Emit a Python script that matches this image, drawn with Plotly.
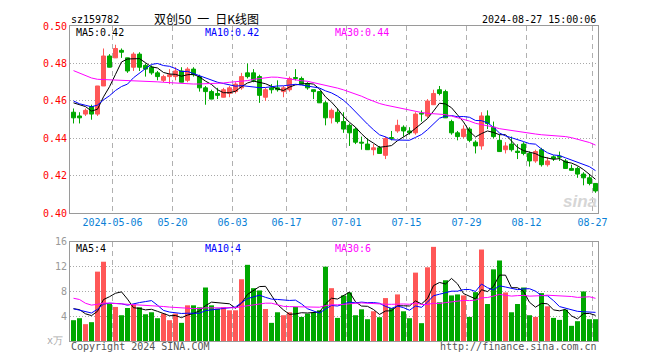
import numpy as np
import plotly.graph_objects as go

# ---------------- data ----------------
days = {4: [22, 23, 24, 25, 26, 29, 30],
        5: [6, 7, 8, 9, 10, 13, 14, 15, 16, 17, 20, 21, 22, 23, 24, 27, 28, 29, 30, 31],
        6: [3, 4, 5, 6, 7, 11, 12, 13, 14, 17, 18, 19, 20, 21, 24, 25, 26, 27, 28],
        7: [1, 2, 3, 4, 5, 8, 9, 10, 11, 12, 15, 16, 17, 18, 19, 22, 23, 24, 25, 26, 29, 30, 31],
        8: [1, 2, 5, 6, 7, 8, 9, 12, 13, 14, 15, 16, 19, 20, 21, 22, 23, 26, 27]}
dates = [f"2024-{m:02d}-{d:02d}" for m in days for d in days[m]]

tick_dates = ["2024-05-06", "2024-05-20", "2024-06-03", "2024-06-17", "2024-07-01",
              "2024-07-15", "2024-07-29", "2024-08-12", "2024-08-27"]
tick_text = ["2024-05-06", "05-20", "06-03", "06-17", "07-01", "07-15", "07-29", "08-12", "08-27"]

open_ = [.454, .452, .453, .457, .453, .468, .484, .483, .487, .483,
         .478, .485, .479, .478, .475, .471, .473, .473, .476, .471,
         .477, .473, .467, .465, .464, .462, .464, .465, .467, .475,
         .475, .473, .462, .467, .467, .465, .466, .4725, .472, .469,
         .466, .465, .459, .451, .454, .449, .447, .445, .438, .437,
         .434, .435, .431, .4405, .444, .446, .444, .443, .4535, .452,
         .458, .466, .465, .449, .443, .441, .445, .438, .436, .452,
         .446, .439, .434, .437, .4332, .437, .432, .428, .434, .426,
         .4302, .4305, .428, .424, .424, .421, .419, .416]
close = [.451, .451, .455, .453, .468, .484, .478, .488, .486, .476,
         .485, .478, .477, .475, .473, .473, .474, .476, .470, .477,
         .474, .467, .465, .461, .463, .466, .467, .469, .473, .473,
         .471, .463, .466, .466, .466, .467, .472, .472, .469, .467,
         .465, .459, .451, .455, .449, .445, .443, .438, .4375, .434,
         .435, .432, .440, .440, .447, .444, .443, .453, .453, .460,
         .464, .464, .451, .443, .441, .445, .439, .436, .452, .448,
         .441, .433, .436, .434, .4325, .432, .428, .433, .426, .428,
         .4293, .430, .424, .423, .421, .419, .416, .412]
high = [.456, .454, .456, .458, .468, .488, .485, .490, .488, .483,
        .486, .486, .480, .479, .476, .474, .477, .478, .478, .478,
        .478, .474, .468, .466, .467, .467, .468, .470, .475, .480,
        .477, .474, .467, .469, .471, .468, .473, .477, .473, .470,
        .466, .465, .460, .456, .456, .454, .448, .446, .441, .440,
        .437, .436, .441, .444, .450, .447, .446, .454, .455, .461,
        .466, .468, .466, .450, .444, .447, .446, .439, .454, .455,
        .449, .442, .438, .441, .437, .438, .433, .434, .435, .430,
        .431, .433, .429, .426, .425, .422, .421, .416]
low = [.448, .448, .452, .450, .452, .468, .478, .483, .483, .475,
       .476, .476, .473, .474, .471, .470, .469, .471, .470, .470,
       .473, .465, .458, .461, .461, .462, .462, .464, .466, .472,
       .470, .459, .460, .464, .465, .462, .465, .471, .469, .466,
       .461, .459, .447, .448, .448, .443, .436, .437, .434, .434,
       .431, .432, .429, .439, .443, .441, .442, .442, .449, .451,
       .458, .463, .451, .442, .439, .440, .438, .432, .434, .445,
       .440, .433, .432, .433, .429, .431, .425, .427, .425, .425,
       .428, .428, .424, .423, .419, .415, .415, .411]
volume = [3.36, 3.68, 2.72, 3.04, 11.2, 12.8, 6.0, 5.5, 4.16, 5.33,
          5.87, 5.44, 4.32, 4.64, 3.68, 4.43, 3.36, 4.43, 2.93, 5.76,
          5.76, 5.44, 8.64, 5.76, 5.23, 5.44, 4.96, 4.96, 9.97, 12.3,
          8.53, 8.16, 5.17, 2.93, 4.64, 4.16, 4.64, 5.49, 3.89, 4.43,
          4.64, 4.96, 12.0, 8.53, 3.73, 7.36, 7.84, 4.16, 5.12, 3.52,
          4.8, 3.84, 6.93, 5.33, 7.52, 4.8, 3.68, 11.04, 2.88, 11.9,
          15.2, 6.24, 9.81, 7.36, 7.52, 7.36, 3.89, 7.89, 14.77, 5.97,
          11.57, 13.0, 7.84, 4.64, 5.97, 8.64, 4.16, 3.89, 7.73, 5.6,
          3.73, 3.41, 5.07, 2.45, 3.2, 8.0, 3.52, 3.52]

# sessions before the first visible day (only used to warm up the moving averages)
prior_close = [.492, .494, .491, .489, .487, .490, .488, .486, .485, .484,
               .483, .481, .479, .478, .480, .482, .480, .478, .479, .480,
               .466, .463, .461, .459, .456, .456, .460, .465, .463]
prior_volume = [9.7, 21.0, 12.0, 7.2, 6.8, 6.5, 7.0, 6.1, 6.9, 7.4,
                6.3, 6.0, 6.8, 6.4, 6.7, 6.2, 6.5, 6.6, 6.9, 6.0,
                5.6, 4.8, 5.9, 5.1, 4.6, 4.4, 6.1, 4.5, 7.7]

# ---------------- derived ----------------
n = len(close)
x = np.arange(n)
O = np.array(open_); C = np.array(close); H = np.array(high); L = np.array(low)
V = np.array(volume)
up = C >= O
RED, GREEN = "#ff5757", "#00a800"
cols = np.where(up, RED, GREEN)

allc = np.array(prior_close + close)
allv = np.array(prior_volume + volume)
k = len(prior_close)


def ma(arr, w):
    return np.array([arr[k + i - w + 1:k + i + 1].mean() for i in range(n)])


ma5, ma10, ma30 = ma(allc, 5), ma(allc, 10), ma(allc, 30)
vma5, vma10, vma30 = ma(allv, 5), ma(allv, 10), ma(allv, 30)

tick_idx = [dates.index(d) - 0.5 for d in tick_dates]

fig = go.Figure()

# wicks
for flag, col in ((True, RED), (False, GREEN)):
    wx, wy = [], []
    for i in range(n):
        if up[i] == flag:
            wx += [i, i, None]
            wy += [L[i], H[i], None]
    fig.add_trace(go.Scatter(x=wx, y=wy, mode="lines", line=dict(color=col, width=1),
                             xaxis="x", yaxis="y", hoverinfo="skip"))

# bodies
fig.add_trace(go.Bar(x=x, y=np.abs(C - O), base=np.minimum(O, C), width=0.67,
                     marker=dict(color=cols, line=dict(color=cols, width=1)),
                     xaxis="x", yaxis="y"))

for arr, col in ((ma5, "black"), (ma10, "#0000ff"), (ma30, "#ff00ff")):
    fig.add_trace(go.Scatter(x=x, y=arr, mode="lines", line=dict(color=col, width=1),
                             xaxis="x", yaxis="y"))

# volume
fig.add_trace(go.Bar(x=x, y=V, width=0.83, marker=dict(color=cols, line=dict(width=0)),
                     xaxis="x2", yaxis="y2"))
for arr, col in ((vma5, "black"), (vma10, "#0000ff"), (vma30, "#ff00ff")):
    fig.add_trace(go.Scatter(x=x, y=arr, mode="lines", line=dict(color=col, width=1),
                             xaxis="x2", yaxis="y2"))

MONO = "DejaVu Sans Mono"
shift = 1 / 12
xrange_ = [-0.5 - shift, n - 0.5 - shift]
grid_v = dict(showgrid=True, gridcolor="#b0b0b0", griddash="5px,4px", gridwidth=1,
              showline=True, mirror=True, linecolor="#9a9a9a", linewidth=1,
              zeroline=False, range=xrange_, tickmode="array", tickvals=tick_idx,
              ticks="", fixedrange=True)

# the page has an 8px body margin; the figure is sized so the plot areas land
# at x 70..598 and y 20..341 of the 660x360 window
fig.update_layout(
    width=652, height=352,
    margin=dict(l=62, r=62, t=12, b=19),
    plot_bgcolor="white", paper_bgcolor="white",
    showlegend=False, barmode="overlay",
    xaxis=dict(**grid_v, anchor="y", domain=[0, 1], ticktext=tick_text,
               tickfont=dict(family=MONO, size=10, color="#0a7fd6")),
    xaxis2=dict(**grid_v, anchor="y2", domain=[0, 1], showticklabels=False),
    yaxis=dict(domain=[0.405, 1], range=[0.40, 0.50], tickmode="array",
               tickvals=[0.40, 0.42, 0.44, 0.46, 0.48, 0.50],
               ticktext=["0.40", "0.42", "0.44", "0.46", "0.48", "0.50"],
               tickfont=dict(family=MONO, size=10, color="#ff0000"),
               showgrid=True, gridcolor="#a8a8a8", griddash="1px,2px",
               showline=True, mirror=True, linecolor="#9a9a9a", linewidth=1,
               zeroline=False, ticks="", fixedrange=True),
    yaxis2=dict(domain=[0, 0.3146], range=[0, 16], tickmode="array",
                tickvals=[4, 8, 12, 16], ticktext=["4", "8", "12", "16"],
                tickfont=dict(family=MONO, size=10, color="#999999"),
                showgrid=True, gridcolor="#a8a8a8", griddash="1px,2px",
                showline=True, mirror=True, linecolor="#9a9a9a", linewidth=1,
                zeroline=False, ticks="", fixedrange=True),
)


def px(xp, yp):
    return (xp - 70) / 528, (341 - yp) / 321


def note(text, xp, yp, color="black", anchor="left", size=10, family=MONO, **kw):
    ax, ay = px(xp, yp)
    fig.add_annotation(text=text, x=ax, y=ay, xref="paper", yref="paper",
                       xanchor=anchor, yanchor="middle", showarrow=False, borderpad=0,
                       font=dict(family=family, size=size, color=color, **kw))


note("sz159782", 70, 13)
note("双创50\u2002一\u2002日K线图", 206, 12, anchor="center", size=12, family="Noto Sans CJK SC")
note("2024-08-27 15:00:06", 597, 13, anchor="right")
note(f"MA5:{ma5[-1]:.2f}", 75, 27)
note(f"MA10:{ma10[-1]:.2f}", 204, 27, color="#0000ff")
note(f"MA30:{ma30[-1]:.2f}", 334, 27, color="#ff00ff")
note(f"MA5:{int(vma5[-1])}", 75, 247)
note(f"MA10:{int(vma10[-1])}", 204, 247, color="#0000ff")
note(f"MA30:{int(vma30[-1])}", 334, 247, color="#ff00ff")
note("Copyright 2024 SINA.COM", 70, 347, color="#555555")
note("http://finance.sina.com.cn", 598, 347, color="#555555", anchor="right")
note("x万", 64, 340, color="#aaaaaa", anchor="right", size=10)
note("sina", 598, 199, color="#d6d6d6", anchor="right", size=17,
     family="Liberation Sans", weight="bold", style="italic")

fig.write_html("out.html")
